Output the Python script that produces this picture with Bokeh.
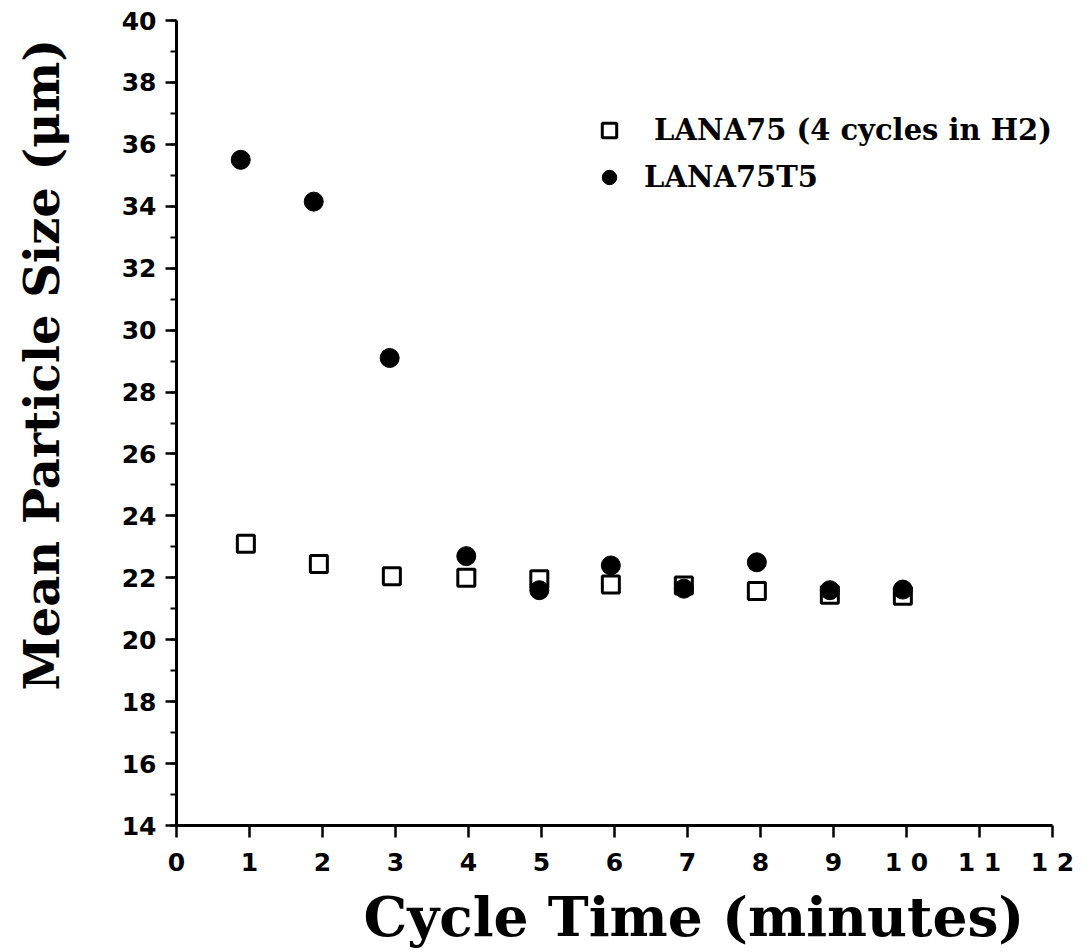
from bokeh.plotting import figure
from bokeh.models import Range1d, SingleIntervalTicker, Legend, LegendItem, Title
from bokeh.embed import file_html
from bokeh.resources import INLINE

# ---- data ----
lana75_x = [0.95, 1.95, 2.95, 3.97, 4.97, 5.95, 6.95, 7.95, 8.95, 9.95]
lana75_y = [23.1, 22.45, 22.05, 22.0, 21.95, 21.78, 21.75, 21.57, 21.45, 21.42]
lana75t5_x = [0.88, 1.88, 2.92, 3.97, 4.97, 5.95, 6.95, 7.95, 8.95, 9.95]
lana75t5_y = [35.5, 34.15, 29.1, 22.7, 21.6, 22.4, 21.65, 22.5, 21.6, 21.62]
x_tick_labels = {0: "0", 1: "1", 2: "2", 3: "3", 4: "4", 5: "5", 6: "6",
                 7: "7", 8: "8", 9: "9", 10: "1 0", 11: "1 1", 12: "1 2"}
label_a = " LANA75 (4 cycles in H2)"
label_b = "LANA75T5"
x_title = "Cycle Time (minutes)"
y_title = "Mean Particle Size (\u03bcm)"

serif = "DejaVu Serif"
sans = "DejaVu Sans"

p = figure(width=1084, height=952, output_backend="svg", toolbar_location=None,
           x_range=Range1d(0, 12), y_range=Range1d(14, 40),
           min_border_left=176, min_border_right=32, min_border_top=20,
           min_border_bottom=127)
p.outline_line_color = None
p.grid.visible = False
p.background_fill_color = "white"
p.border_fill_color = "white"

r_sq = p.scatter(lana75_x, lana75_y, marker="square", size=17,
                 fill_color="white", line_color="black", line_width=3)
r_ci = p.scatter(lana75t5_x, lana75t5_y, marker="circle", size=19,
                 fill_color="black", line_color="black", line_width=1)

for ax in (p.xaxis[0], p.yaxis[0]):
    ax.axis_line_width = 3
    ax.axis_line_color = "black"
    ax.major_tick_line_width = 2.5
    ax.major_tick_line_color = "black"
    ax.minor_tick_line_width = 2
    ax.major_tick_in = 0
    ax.minor_tick_in = 0
    ax.major_label_text_font = sans
    ax.major_label_text_font_style = "bold"
    ax.major_label_text_font_size = "25px"
    ax.major_label_text_color = "black"

p.xaxis.ticker = SingleIntervalTicker(interval=1, num_minor_ticks=0)
p.xaxis.major_tick_out = 12
p.xaxis.major_label_standoff = 10
p.xaxis.major_label_overrides = x_tick_labels

p.yaxis.ticker = SingleIntervalTicker(interval=2, num_minor_ticks=2)
p.yaxis.major_tick_out = 11
p.yaxis.minor_tick_out = 6
p.yaxis.major_label_standoff = 9

tx = Title(text=x_title, align="left", offset=187, text_font=serif,
           text_font_style="bold", text_font_size="55px", text_color="black",
           standoff=4)
p.add_layout(tx, "below")

# blank spacer between the y axis and its title, to push the title outward
spacer = Title(text=" ", text_font_size="1px", standoff=46)
p.add_layout(spacer, "left")
ty = Title(text=y_title, align="left", offset=135, text_font=serif,
           text_font_style="bold", text_font_size="48px", text_color="black",
           standoff=0)
p.add_layout(ty, "left")

legend = Legend(items=[LegendItem(label=label_a, renderers=[r_sq]),
                       LegendItem(label=label_b, renderers=[r_ci])],
                location=(415, 630), orientation="vertical",
                glyph_width=36, glyph_height=36, label_standoff=17,
                spacing=11, padding=0, margin=0,
                label_text_font=serif, label_text_font_style="bold",
                label_text_font_size="29px", label_text_color="black",
                border_line_color=None, background_fill_alpha=0)
p.add_layout(legend, "center")

open("out.html", "w").write(file_html(p, INLINE))
